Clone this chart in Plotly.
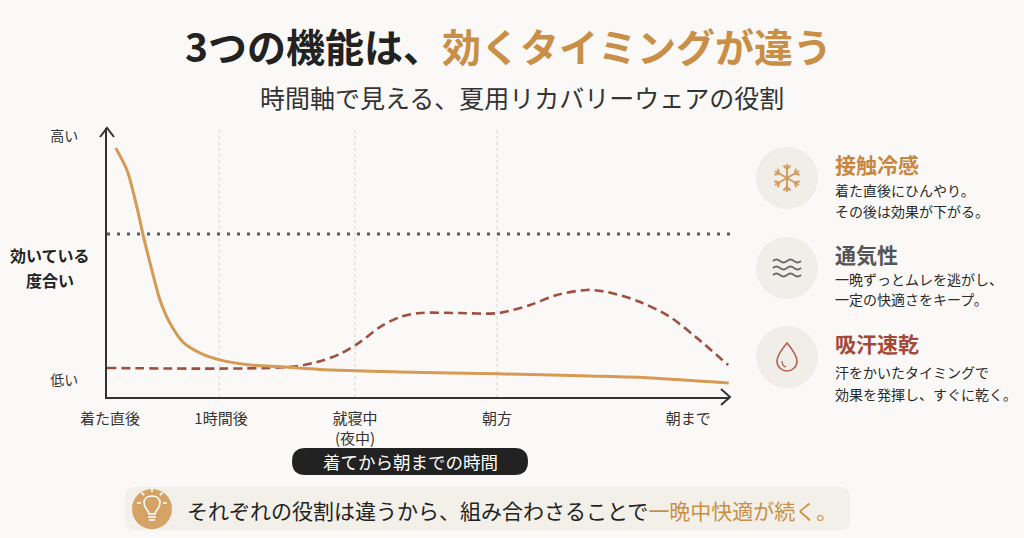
import math
import plotly.graph_objects as go

# ---------------- data (0-100 scales) ----------------
tick_pos = [0.5, 18.3, 39.8, 62.6, 93.3]
tick_labels = ["着た直後", "1時間後", "就寝中<br>(夜中)", "朝方", "朝まで"]
grid_pos = [18.0, 39.8, 62.6]
y_tick_pos = [97.0, 6.3]
y_tick_labels = ["高い", "低い"]

# 接触冷感 (contact cooling) - solid orange
cool_x = [1.4, 3.2, 4.8, 5.8, 7.2, 8.5, 10.1, 12.2, 14.9, 18.1, 23.0, 28.2, 36.3, 47.0, 62.8, 77.5, 87.3, 99.8]
cool_y = [92.6, 84.4, 70.6, 60.2, 47.2, 36.1, 27.5, 20.4, 16.4, 13.8, 11.9, 11.2, 10.0, 9.3, 8.6, 7.8, 7.1, 5.2]

# 吸汗速乾 (sweat absorbing) - dashed red-brown
dry_x = [0.0, 29.4, 33.7, 37.4, 40.6, 43.8, 47.0, 50.2, 56.7, 62.8, 67.9, 72.2, 77.0, 80.3, 85.6, 90.4, 94.7, 99.7]
dry_y = [10.8, 11.2, 13.0, 16.0, 20.4, 26.0, 29.7, 31.2, 31.2, 31.2, 34.2, 37.9, 39.8, 39.0, 35.3, 29.7, 21.9, 11.9]

# 通気性 (breathability) - constant dotted level
air_x = [0.0, 100.0]
air_level = 60.6
air_y = [air_level, air_level]

FONT = "Noto Sans CJK JP"
ORANGE = "#D69A55"
TITLE_ORANGE = "#C98F47"
RED = "#A04E3E"
BG = "#FAF9F7"

W, H = 1024, 538
AX_L, AX_R, AX_T, AX_B = 107, 730, 128, 397

fig = go.Figure()

fig.add_trace(go.Scatter(x=air_x, y=air_y, mode="lines",
                         line=dict(color="#5a5a5a", width=3, dash="3px,7px"),
                         hoverinfo="skip", showlegend=False))
fig.add_trace(go.Scatter(x=dry_x, y=dry_y, mode="lines",
                         line=dict(color=RED, width=2.6, dash="9px,5px", shape="spline", smoothing=0.9),
                         hoverinfo="skip", showlegend=False))
fig.add_trace(go.Scatter(x=cool_x, y=cool_y, mode="lines",
                         line=dict(color=ORANGE, width=3, shape="spline", smoothing=0.8),
                         hoverinfo="skip", showlegend=False))
# pixel axes for decorations
fig.add_trace(go.Scatter(x=[], y=[], xaxis="x2", yaxis="y2", hoverinfo="skip", showlegend=False))

shapes = []
annotations = []

def P(**kw):
    d = dict(xref="x2", yref="y2")
    d.update(kw)
    return d

def rrect(x0, y0, x1, y1, r):
    return (f"M {x0+r},{y0} L {x1-r},{y0} Q {x1},{y0} {x1},{y0+r} L {x1},{y1-r} "
            f"Q {x1},{y1} {x1-r},{y1} L {x0+r},{y1} Q {x0},{y1} {x0},{y1-r} "
            f"L {x0},{y0+r} Q {x0},{y0} {x0+r},{y0} Z")

# grid lines
for g in grid_pos:
    shapes.append(dict(type="line", xref="x", yref="y", x0=g, x1=g, y0=0, y1=100,
                       line=dict(color="#d4d4d4", width=1, dash="dot"), layer="below"))

# axis arrowheads
shapes.append(P(type="path", path=f"M {AX_L-7},{AX_T+9} L {AX_L},{AX_T} L {AX_L+7},{AX_T+9}",
                line=dict(color="#333", width=2)))
shapes.append(P(type="path", path=f"M {AX_R-9},{AX_B-8} L {AX_R},{AX_B} L {AX_R-9},{AX_B+8}",
                line=dict(color="#333", width=2)))

# pill and banner
shapes.append(P(type="path", path=rrect(292, 448, 528, 475, 13.5), fillcolor="#222222",
                line=dict(width=0), layer="below"))
shapes.append(P(type="path", path=rrect(125, 487, 850, 530, 10), fillcolor="#F3EFE9",
                line=dict(width=0), layer="below"))

# bulb icon
bx, by = 152, 509
shapes.append(P(type="circle", x0=bx-20, x1=bx+20, y0=by-20, y1=by+20, fillcolor="#D5A366",
                line=dict(width=0), layer="below"))
shapes.append(P(type="path",
                path=f"M {bx-3},{by+5} C {bx-3},{by+1} {bx-8},{by} {bx-8},{by-6} "
                     f"C {bx-8},{by-11} {bx-4},{by-13} {bx},{by-13} "
                     f"C {bx+4},{by-13} {bx+8},{by-11} {bx+8},{by-6} "
                     f"C {bx+8},{by} {bx+3},{by+1} {bx+3},{by+5} Z",
                line=dict(color="white", width=1.6)))
for dy, hw in [(8, 4), (11, 3)]:
    shapes.append(P(type="line", x0=bx-hw, x1=bx+hw, y0=by+dy, y1=by+dy, line=dict(color="white", width=1.6)))
for ang in [-90, -45, -135, 0, 180]:
    a = math.radians(ang)
    cx, cy = bx, by-6
    shapes.append(P(type="line", x0=cx+11*math.cos(a), y0=cy+11*math.sin(a),
                    x1=cx+15*math.cos(a), y1=cy+15*math.sin(a), line=dict(color="white", width=1.6)))

# right panel circles
icon_cy = [178, 268, 357]
for cy in icon_cy:
    shapes.append(P(type="circle", x0=787-31, x1=787+31, y0=cy-31, y1=cy+31,
                    fillcolor="#F1EEEA", line=dict(width=0), layer="below"))

# snowflake
sx, sy = 787, 178
for k in range(6):
    a = math.radians(90 + 60*k)
    ex, ey = sx + 14*math.cos(a), sy - 14*math.sin(a)
    shapes.append(P(type="line", x0=sx, y0=sy, x1=ex, y1=ey, line=dict(color="#D19C5C", width=2)))
    bxp, byp = sx + 9*math.cos(a), sy - 9*math.sin(a)
    for s in (1, -1):
        b = a + s*math.radians(45)
        shapes.append(P(type="line", x0=bxp, y0=byp, x1=bxp + 5*math.cos(b), y1=byp - 5*math.sin(b),
                        line=dict(color="#D19C5C", width=2)))

# waves
for wy in [261, 268, 275]:
    shapes.append(P(type="path",
                    path=f"M 773,{wy} Q 776.5,{wy-3} 780,{wy} T 787,{wy} T 794,{wy} T 801,{wy}",
                    line=dict(color="#6a6a6a", width=1.8)))

# droplet
dx, dy0 = 787, 357
shapes.append(P(type="path",
                path=f"M {dx},{dy0-14} C {dx},{dy0-14} {dx-10},{dy0-2} {dx-10},{dy0+4} "
                     f"C {dx-10},{dy0+10} {dx-5},{dy0+14} {dx},{dy0+14} "
                     f"C {dx+5},{dy0+14} {dx+10},{dy0+10} {dx+10},{dy0+4} "
                     f"C {dx+10},{dy0-2} {dx},{dy0-14} {dx},{dy0-14} Z",
                line=dict(color="#B2604B", width=1.6)))
shapes.append(P(type="path", path=f"M {dx-5},{dy0+4} Q {dx-5},{dy0+9} {dx-1},{dy0+10}",
                line=dict(color="#B2604B", width=1.3)))

# ---------------- text ----------------
def T(x, y, text, size, color="#222", xanchor="center", bold=False):
    annotations.append(P(x=x, y=y, text=(f"<b>{text}</b>" if bold else text), showarrow=False,
                         xanchor=xanchor, yanchor="middle",
                         font=dict(family=FONT, size=size, color=color)))

T(508, 45, f"3つの機能は、<span style='color:{TITLE_ORANGE}'>効くタイミングが違う</span>", 39, "#222", bold=True)
T(522, 97, "時間軸で見える、夏用リカバリーウェアの役割", 25, "#333")
T(50, 255, "効いている", 16, "#222", bold=True)
T(50, 280, "度合い", 16, "#222", bold=True)
T(410, 461, "着てから朝までの時間", 17.5, "white")
T(185, 510, f"それぞれの役割は違うから、組み合わさることで<span style='color:{TITLE_ORANGE}'>一晩中快適が続く。</span>",
  21, "#222", xanchor="left")

heads = ["接触冷感", "通気性", "吸汗速乾"]
head_colors = ["#C8873F", "#555555", "#A5483A"]
head_y = [164, 254, 343]
desc = [["着た直後にひんやり。", "その後は効果が下がる。"],
        ["一晩ずっとムレを逃がし、", "一定の快適さをキープ。"],
        ["汗をかいたタイミングで", "効果を発揮し、すぐに乾く。"]]
desc_y = [[190, 211], [279, 299], [372, 394]]
for h, c, hy, d, dys in zip(heads, head_colors, head_y, desc, desc_y):
    T(833, hy, h, 21, c, xanchor="left", bold=True)
    for line, ly in zip(d, dys):
        T(833, ly, line, 14, "#2a2a2a", xanchor="left")

fig.update_layout(
    width=W, height=H, autosize=False,
    margin=dict(l=0, r=0, t=0, b=0, pad=0, autoexpand=False),
    paper_bgcolor=BG, plot_bgcolor="rgba(0,0,0,0)",
    showlegend=False,
    xaxis=dict(domain=[AX_L/W, AX_R/W], range=[0, 100], showgrid=False, zeroline=False,
               showline=True, linecolor="#333", linewidth=2, automargin=False,
               tickmode="array", tickvals=tick_pos, ticktext=tick_labels, ticks="",
               ticklabelstandoff=7, tickfont=dict(family=FONT, size=15, color="#333"),
               fixedrange=True),
    yaxis=dict(domain=[1-AX_B/H, 1-AX_T/H], range=[0, 100], showgrid=False, zeroline=False,
               showline=True, linecolor="#333", linewidth=2, automargin=False,
               tickmode="array", tickvals=y_tick_pos, ticktext=y_tick_labels, ticks="",
               ticklabelstandoff=24, tickfont=dict(family=FONT, size=14, color="#333"),
               fixedrange=True),
    xaxis2=dict(domain=[0, 1], range=[0, W], visible=False, anchor="y2", fixedrange=True, automargin=False),
    yaxis2=dict(domain=[0, 1], range=[H, 0], visible=False, anchor="x2", fixedrange=True, automargin=False),
    shapes=shapes,
    annotations=annotations,
)

fig.write_html("out.html", config={"displayModeBar": False, "staticPlot": True},
               post_script="document.body.style.margin='0';document.body.style.overflow='hidden';")
